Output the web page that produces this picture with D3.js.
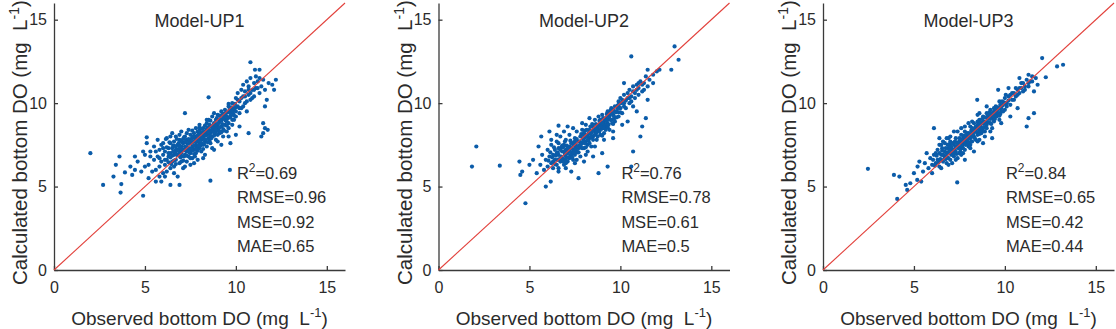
<!DOCTYPE html>
<html>
<head>
<meta charset="utf-8">
<script src="https://cdn.jsdelivr.net/npm/d3@7"></script>
<style>
  body { margin: 0; background: #fff; }
  text { font-family: Arial, "Liberation Sans", sans-serif; fill: #2b2b2b; }
</style>
</head>
<body>
<div id="chart"></div>
<script>
// observed vs calculated bottom DO, one array of [observed, calculated] per model
var up1Points = [
  [2.0,7.0],[2.7,5.1],[3.27,5.6],[3.4,6.3],[3.6,6.8],[3.66,4.64],[3.7,5.15],[4.9,4.45],[3.9,5.85],[4.45,6.8],
  [4.45,6.0],[5.1,7.95],[5.9,5.3],[6.4,5.1],[6.9,5.1],[8.6,5.35],[9.67,6.0],[7.2,9.4],[8.5,10.35],[10.8,12.45],
  [11.05,12.0],[11.3,12.0],[12.2,11.4],[12.1,10.8],[11.7,10.2],[11.6,9.8],[11.5,8.8],[11.6,8.5],[11.75,8.4],[11.4,8.0],
  [11.5,8.2],[10.7,8.2],[10.0,8.1],[10.2,8.6],
  [4.2,6.2],[4.6,6.5],[4.8,5.9],[5.0,6.2],[5.2,5.5],[4.9,7.1],[4.3,5.7],[5.3,6.8],[5.6,5.3],[5.8,5.6],
  [5.0,6.9],[5.1,7.6],[5.2,6.3],[5.3,7.1],[5.4,5.9],[5.5,6.6],[5.5,7.4],[5.6,6.0],[5.7,7.8],[5.7,6.8],
  [5.8,6.2],[5.8,7.2],[5.9,6.5],[5.9,7.5],[6.0,5.8],[6.0,6.9],[6.0,7.6],[6.1,6.3],[6.1,7.1],[6.2,6.6],
  [6.2,7.9],[6.2,5.9],[6.3,7.3],[6.3,6.8],[6.4,6.1],[6.4,7.6],[6.4,7.0],[6.5,6.5],[6.5,8.2],[6.5,7.3],
  [6.6,6.9],[6.6,7.7],[6.6,6.2],[6.7,7.2],[6.7,8.0],[6.7,6.6],[6.8,7.5],[6.8,6.9],[6.8,5.6],[6.9,7.8],
  [6.9,7.1],[6.9,6.4],[7.0,7.4],[7.0,8.3],[7.0,6.8],[7.0,7.0],[7.1,6.1],[7.1,7.6],[7.1,7.2],[7.2,8.0],
  [7.2,6.9],[7.2,7.4],[7.3,6.5],[7.3,7.8],[7.3,7.1],[7.4,8.4],[7.4,7.3],[7.4,6.8],[7.5,7.6],[7.5,7.0],
  [7.5,8.1],[7.5,6.3],[7.6,7.4],[7.6,7.9],[7.6,6.7],[7.7,8.2],[7.7,7.2],[7.7,7.7],[7.8,8.5],[7.8,7.0],
  [7.8,7.5],[7.8,8.0],[7.9,6.6],[7.9,7.8],[7.9,8.3],[8.0,7.3],[8.0,8.0],[8.0,8.7],[8.0,7.6],[8.1,7.1],
  [8.1,8.2],[8.1,7.8],[8.2,8.5],[8.2,7.5],[8.2,8.0],[8.3,6.9],[8.3,8.3],[8.3,7.7],[8.4,8.8],[8.4,8.1],
  [8.4,7.4],[8.5,8.4],[8.5,7.9],[8.5,9.0],[8.6,8.2],[8.6,7.6],[8.6,8.6],[8.7,9.2],[8.7,8.0],[8.7,7.3],
  [8.8,8.5],[8.8,8.8],[8.9,7.8],[8.9,9.0],[8.9,8.3],[9.0,8.6],[9.0,9.3],[9.0,7.7],[9.1,8.9],[9.1,8.2],
  [9.2,9.5],[9.2,8.6],[9.3,8.0],[9.3,9.1],[9.4,8.7],[9.4,9.6],[9.5,8.3],[9.5,9.2],[9.6,9.8],[9.6,8.8],
  [9.7,9.4],[9.7,7.6],[9.8,10.0],[9.8,9.0],[9.9,9.6],[10.0,10.3],[10.0,9.2],[10.1,9.8],[10.1,10.6],[10.2,9.4],
  [10.2,10.1],[10.3,10.8],[10.3,9.7],[10.4,10.4],[10.4,11.1],[10.5,10.0],[10.5,10.7],[10.6,11.3],[10.6,9.5],[10.7,10.5],
  [10.7,11.0],[10.8,10.2],[10.8,11.5],[10.9,10.8],[11.0,11.2],[11.0,10.4],[11.1,11.6],[11.1,10.9],[11.2,11.3],[11.3,10.6],
  [11.4,11.0],[11.5,11.4],[11.6,10.8],[11.8,11.2],[12.0,11.1],
  [6.55,7.45],[6.65,7.05],[6.75,7.85],[6.85,7.25],[6.95,6.75],[7.05,7.65],[7.15,7.95],[7.25,7.15],[7.35,7.55],[7.45,7.05],
  [7.55,7.85],[7.65,7.25],[7.75,7.95],[7.85,7.35],[7.95,8.15],[8.05,7.45],[8.15,8.45],[8.25,7.85],[8.35,8.05],[8.45,8.55],
  [8.55,7.75],[8.65,8.35],[8.75,8.65],[8.85,8.15],[8.95,8.75],[9.05,8.45],[9.15,9.05],[9.25,8.75],[9.35,9.35],[9.45,8.95],
  [9.55,9.45],[9.65,9.15],[9.75,9.75],[9.85,9.35],[9.95,9.95],
  [6.3,6.45],[6.5,6.85],[6.7,6.35],[6.9,7.45],[7.1,6.55],[7.3,7.35],[7.5,7.25],[7.7,6.95],[7.9,7.15],[8.1,7.55],
  [8.3,8.65],[8.5,8.15],[8.7,8.45],[8.9,8.55],[9.1,9.25],[9.3,8.45],[9.5,8.65],[9.7,9.55],[9.9,9.25],
  [6.2,7.35],[6.4,6.75],[6.6,7.45],[6.8,7.15],[7.0,7.75],[7.2,7.65],[7.4,7.85],[7.6,7.15],[7.8,7.85],[8.0,8.35],
  [8.2,7.25],[8.4,8.45],[8.6,8.95],[8.8,8.05],[9.0,8.35],[9.2,8.25],[9.4,9.25],[9.6,9.95],[9.8,9.55],[10.0,9.75],
  [5.6,7.1],[5.8,6.7],[6.0,7.3],[6.1,6.6],[6.3,7.0],[6.35,7.65],[6.45,6.35],[6.55,7.1],[6.6,6.55],[6.7,7.4],
  [6.75,6.9],[6.85,7.6],[6.9,6.9],[6.95,7.3],[7.0,6.5],[7.05,7.15],[7.1,7.85],[7.15,6.8],[7.2,7.2],[7.25,7.7],
  [7.3,6.85],[7.35,7.3],[7.4,7.1],[7.45,7.7],[7.5,6.7],[7.55,7.25],[7.6,7.65],[7.65,8.0],[7.7,7.45],[7.75,6.8],
  [7.8,7.25],[7.85,7.7],[7.9,8.05],[7.95,7.45],[8.0,7.8],[8.05,8.15],[8.1,7.6],[8.15,7.9],[8.2,8.25],[8.25,7.55],
  [8.3,8.1],[8.35,7.8],[8.4,8.3],[8.45,7.65],[8.5,8.25],[8.55,8.7],[8.6,8.0],[8.65,7.9],[8.7,8.6],[8.75,8.3],
  [8.8,8.25],[8.85,8.7],[8.9,8.4],[8.95,9.1],[9.0,8.1],[9.05,8.8],[9.1,8.55],[9.15,8.3],[9.2,8.95],[9.25,9.3],
  [9.3,8.7],[9.35,8.35],[9.4,9.0],[9.45,9.4],[9.5,8.9],[9.55,9.1],[9.6,8.5],[9.65,9.6],[9.7,9.2],[9.8,8.7],
  [9.85,9.7],[9.9,9.0],[10.0,9.5],[10.1,10.2],[10.2,9.7],[10.3,10.3],[10.4,9.8],[10.5,10.4],[10.6,10.1],[10.7,10.8],
  [10.8,10.6],[10.9,10.3],[11.0,10.8],[11.2,10.9],[11.3,11.5],[6.15,7.85],[6.4,8.0],[6.9,8.1],[7.3,8.2],[7.6,8.35],
  [8.0,8.55],[8.4,9.0],[8.8,9.4],[6.1,5.6],[6.6,5.8],[7.2,6.2],[7.7,6.4],[8.2,6.7],[8.8,7.2],[9.2,7.5],
  [9.6,8.0]
];

var up2Points = [
  [1.84,6.2],[2.08,7.4],[3.37,6.25],[4.78,4.0],[4.45,6.5],[4.6,5.9],[4.5,5.7],[5.9,5.0],[6.17,5.3],[7.7,5.5],
  [8.8,5.8],[9.3,6.2],[10.6,6.2],[10.7,7.1],[11.4,9.1],[11.2,8.6],[11.1,8.0],[10.6,12.8],[12.98,13.4],[13.2,12.6],
  [12.8,12.0],[12.15,12.0],[11.5,10.2],[5.65,8.0],[6.6,8.65],
  [5.0,6.3],[5.2,6.6],[5.4,5.8],[5.5,7.4],[6.1,8.3],[7.1,8.6],[7.3,5.9],[8.0,6.5],[8.5,6.8],[9.0,7.0],
  [9.6,7.9],[10.4,8.9],[10.9,9.5],[10.2,11.2],[11.5,12.0],[11.8,11.2],
  [5.6,6.3],[5.7,6.9],[5.8,6.0],[5.9,6.6],[6.0,7.2],[6.0,6.2],[6.1,6.8],[6.2,6.4],[6.2,7.5],[6.3,6.9],
  [6.3,6.1],[6.4,7.2],[6.4,6.6],[6.5,6.3],[6.5,7.7],[6.6,6.9],[6.6,7.3],[6.7,6.5],[6.7,8.0],[6.8,7.1],
  [6.8,6.7],[6.9,7.5],[6.9,6.3],[7.0,7.2],[7.0,6.8],[7.0,7.8],[7.1,7.0],[7.1,6.5],[7.2,7.4],[7.2,8.1],
  [7.3,6.9],[7.3,7.6],[7.4,7.2],[7.4,6.6],[7.5,7.9],[7.5,7.4],[7.5,6.9],[7.6,8.3],[7.6,7.1],[7.7,7.7],
  [7.7,7.3],[7.8,8.0],[7.8,6.8],[7.9,7.6],[7.9,8.4],[8.0,7.9],[8.0,7.3],[8.0,8.2],[8.1,7.7],[8.1,8.7],
  [8.2,8.0],[8.2,7.5],[8.3,8.4],[8.3,7.9],[8.4,8.2],[8.4,7.4],[8.5,8.6],[8.5,8.0],[8.6,9.0],[8.6,8.3],
  [8.7,7.8],[8.7,8.7],[8.8,8.4],[8.8,9.2],[8.9,8.1],[8.9,8.8],[9.0,8.5],[9.0,9.3],[9.1,8.9],[9.1,8.2],
  [9.2,9.1],[9.2,8.6],[9.3,9.5],[9.3,8.8],[9.4,9.2],[9.4,8.4],[9.5,9.7],[9.5,9.0],[9.6,9.3],[9.7,9.8],
  [9.7,8.9],[9.8,9.5],[9.9,10.1],[9.9,9.2],[10.0,9.7],[10.0,10.3],[10.1,9.4],[10.2,10.0],[10.2,10.5],[10.3,9.7],
  [10.4,10.3],[10.5,10.0],[10.5,10.8],[10.6,10.4],[10.7,11.0],[10.7,9.8],[10.8,10.6],[10.9,11.1],[11.0,10.5],[11.0,10.9],
  [11.1,11.3],[11.2,10.7],[11.3,11.2],[11.4,11.6],[11.5,11.0],[11.6,11.4],[11.8,11.7],[12.0,11.9],
  [6.55,7.05],[6.75,7.35],[6.95,6.95],[7.15,7.25],[7.35,7.05],[7.55,7.55],[7.75,7.45],[7.95,7.85],[8.15,8.05],[8.35,8.15],
  [8.55,8.35],[8.75,8.55],[8.95,8.45],[9.15,8.75],[9.35,9.05],[9.55,9.35],[9.75,9.45],[9.95,9.75],
  [6.45,6.85],[6.65,6.65],[6.85,7.35],[7.05,7.15],[7.25,6.85],[7.45,7.65],[7.65,7.05],[7.85,7.55],[8.05,8.35],[8.25,7.75],
  [8.45,8.75],[8.65,8.15],[8.85,8.95],[9.05,8.65],[9.25,9.35],[9.45,9.55],[9.65,9.05],[9.85,9.85],
  [6.3,6.5],[6.6,6.1],[6.9,6.6],[7.2,6.7],[7.5,7.15],[7.8,7.35],[8.1,7.35],[8.4,7.95],[8.7,8.25],[9.0,8.05],
  [9.3,8.55],[9.6,8.75],[9.9,9.45],[7.0,6.4],[7.6,6.6],[8.2,7.1],
  [6.05,6.55],[6.15,7.05],[6.25,6.75],[6.35,7.35],[6.4,6.35],[6.5,7.0],[6.55,6.6],[6.6,7.6],[6.7,7.2],[6.75,6.8],
  [6.8,7.45],[6.85,6.5],[6.9,7.1],[6.95,7.7],[7.0,6.6],[7.05,7.45],[7.1,7.3],[7.15,6.75],[7.2,7.1],[7.25,7.75],
  [7.3,7.3],[7.35,6.75],[7.4,7.5],[7.45,7.0],[7.5,7.7],[7.55,7.25],[7.6,7.85],[7.65,7.4],[7.7,7.05],[7.75,7.7],
  [7.8,7.5],[7.85,8.15],[7.9,7.3],[7.95,7.7],[8.0,8.05],[8.05,7.6],[8.1,8.0],[8.15,8.4],[8.2,7.8],[8.25,8.2],
  [8.3,7.6],[8.35,8.6],[8.4,8.0],[8.45,8.35],[8.5,7.8],[8.55,8.5],[8.6,8.1],[8.65,8.75],[8.7,8.45],[8.75,8.0],
  [8.8,8.65],[8.85,8.3],[8.9,9.0],[8.95,8.6],[9.0,8.8],[9.05,9.1],[9.1,8.5],[9.15,9.0],[9.2,8.4],[9.25,8.95],
  [9.3,9.25],[9.35,8.7],[9.4,9.4],[9.45,9.0],[9.5,9.4],[9.55,8.8],[9.6,9.6],[9.65,9.2],[9.7,9.5],[9.8,9.15],
  [9.85,9.7],[9.9,9.9],[10.0,9.45],[10.05,10.0],[10.1,10.2],[10.2,9.8],[10.3,10.15],[10.4,10.6],[10.5,10.3],[10.6,10.1],
  [10.7,10.7],[10.8,10.3],[10.9,10.8],[11.0,11.2],[11.2,11.1],[11.3,10.8],[6.2,7.8],[6.5,8.1],[6.9,8.3],[7.4,8.5],
  [7.9,8.8],[8.3,9.1],[6.6,5.9],[7.0,6.1],[7.5,6.4],[8.1,6.9],[8.6,7.4],[9.1,7.8],[9.6,8.3],[10.1,8.7]
];

var up3Points = [
  [2.47,6.06],[4.08,4.26],[3.9,5.7],[4.2,5.6],[4.63,4.8],[4.55,5.1],[5.18,5.4],[7.38,5.25],[11.3,9.1],[11.2,8.6],
  [11.6,9.4],[12.87,12.2],[13.2,12.3],[12.05,12.7],[12.25,11.55],[9.63,10.8],[6.1,8.5],[8.48,10.2],
  [4.8,5.2],[5.0,5.8],[5.2,6.2],[5.4,5.3],[5.3,6.5],[5.7,7.0],[6.0,5.8],[6.4,7.9],[6.9,7.9],[7.8,6.6],
  [8.3,7.1],[8.8,7.6],[9.3,7.9],[9.8,8.8],[10.3,9.2],[10.7,9.7],[10.2,10.9],[10.8,11.5],[11.3,11.7],[11.6,10.7],
  [11.8,11.1],
  [5.5,5.9],[5.6,6.4],[5.8,6.1],[5.9,6.7],[6.0,6.3],[6.1,6.9],[6.2,6.4],[6.3,7.2],[6.3,6.6],[6.4,6.2],
  [6.5,6.9],[6.5,7.5],[6.6,6.5],[6.7,7.1],[6.7,7.6],[6.8,6.8],[6.8,6.4],[6.9,7.3],[7.0,7.0],[7.0,6.6],
  [7.0,7.7],[7.1,7.2],[7.2,6.8],[7.2,7.5],[7.3,7.9],[7.3,7.1],[7.4,6.7],[7.4,7.4],[7.5,7.7],[7.5,7.0],
  [7.6,8.1],[7.6,7.3],[7.7,7.6],[7.7,7.9],[7.8,7.2],[7.8,8.3],[7.9,7.7],[7.9,8.0],[8.0,7.4],[8.0,8.2],
  [8.1,7.9],[8.1,8.6],[8.2,7.7],[8.2,8.3],[8.3,8.0],[8.3,8.8],[8.4,8.4],[8.4,7.8],[8.5,8.7],[8.5,8.1],
  [8.6,9.0],[8.6,8.4],[8.7,8.2],[8.7,8.8],[8.8,9.2],[8.8,8.5],[8.9,8.9],[8.9,8.3],[9.0,9.4],[9.0,8.7],
  [9.1,9.1],[9.2,8.8],[9.2,9.6],[9.3,9.2],[9.4,9.5],[9.4,8.9],[9.5,9.8],[9.6,9.3],[9.7,9.7],[9.7,10.1],
  [9.8,9.5],[9.9,9.9],[10.0,10.3],[10.0,9.6],[10.1,10.0],[10.2,10.4],[10.3,9.9],[10.4,10.6],[10.5,10.2],[10.6,10.9],
  [10.7,10.5],[10.8,10.9],[10.9,11.2],[11.0,10.7],[11.1,11.0],[11.2,11.4],[11.3,11.0],[11.4,11.3],[11.5,11.6],[11.7,11.5],
  [6.45,6.65],[6.65,6.85],[6.85,7.05],[7.05,7.35],[7.25,7.25],[7.45,7.55],[7.65,7.45],[7.85,7.85],[8.05,7.95],[8.25,8.15],
  [8.45,8.55],[8.65,8.65],[8.85,8.75],[9.05,9.05],[9.25,9.35],[9.45,9.25],[9.65,9.65],[9.85,9.85],
  [6.55,7.15],[6.75,6.65],[6.95,7.55],[7.15,6.95],[7.35,7.65],[7.55,7.35],[7.75,8.05],[7.95,7.55],[8.15,8.35],[8.35,8.45],
  [8.55,8.25],[8.75,9.05],[8.95,8.55],[9.15,9.45],[9.35,9.05],[9.55,9.55],[9.75,9.35],[9.95,10.05],
  [6.9,6.3],[7.3,6.6],[7.7,7.0],[8.1,7.5],[8.5,7.7],[8.9,8.0],[9.3,8.5],[9.7,9.0],[6.2,7.0],[6.6,7.7],
  [7.0,8.0],[7.4,8.3],[7.8,8.6],[8.2,8.9],[8.6,9.4],[9.0,9.8],
  [6.05,6.6],[6.15,6.25],[6.25,6.85],[6.35,6.45],[6.4,7.0],[6.5,6.6],[6.55,7.3],[6.6,6.9],[6.7,6.7],[6.75,7.3],
  [6.8,7.0],[6.85,7.5],[6.9,6.7],[6.95,7.2],[7.0,7.4],[7.05,6.9],[7.1,7.6],[7.15,7.2],[7.2,7.0],[7.25,7.7],
  [7.3,7.4],[7.35,6.95],[7.4,7.6],[7.45,7.3],[7.5,7.9],[7.55,7.1],[7.6,7.6],[7.65,7.8],[7.7,7.3],[7.75,7.7],
  [7.8,8.0],[7.85,7.5],[7.9,8.2],[7.95,7.8],[8.0,7.65],[8.05,8.15],[8.1,8.0],[8.15,7.7],[8.2,8.5],[8.25,8.0],
  [8.3,8.3],[8.35,7.9],[8.4,8.6],[8.45,8.25],[8.5,8.9],[8.55,8.5],[8.6,8.15],[8.65,8.8],[8.7,8.5],[8.75,8.3],
  [8.8,8.9],[8.85,8.55],[8.9,9.15],[8.95,8.8],[9.0,8.5],[9.05,9.2],[9.1,8.85],[9.15,9.3],[9.2,9.05],[9.25,8.75],
  [9.3,9.4],[9.35,9.2],[9.4,9.7],[9.45,9.05],[9.5,9.45],[9.55,9.2],[9.6,9.75],[9.65,9.4],[9.7,9.25],[9.75,9.9],
  [9.8,9.7],[9.85,10.1],[9.9,9.5],[10.0,10.0],[10.05,10.5],[10.1,9.8],[10.2,10.15],[10.3,10.5],[10.4,10.2],[10.5,10.6],
  [10.6,10.4],[10.7,10.8],[10.8,10.6],[10.9,10.9],[11.0,11.2],[11.1,10.8],[11.3,11.2],[11.5,11.3],[6.4,7.5],[6.8,7.9],
  [7.2,8.3],[7.6,8.5],[8.0,8.8],[8.5,9.3],[6.5,6.1],[7.1,6.4],[7.6,6.9],[8.1,7.3],[8.6,7.8],[9.2,8.3]
];

var modelNames = ["Model-UP1", "Model-UP2", "Model-UP3"];
var r2Values = ["0.69", "0.76", "0.84"];
var rmseValues = ["0.96", "0.78", "0.65"];
var mseValues = ["0.92", "0.61", "0.42"];
var maeValues = ["0.65", "0.5", "0.44"];
var tickValues = [0, 5, 10, 15];

var w = 1116;
var h = 329;
var panelLeft = [54, 438.5, 823];
var plotWidth = 291;
var plotTop = 3;
var plotBottom = 270;

var pointColor = "#0b5ca9";
var lineColor = "#e2403b";

var svg = d3.select("#chart")
    .append("svg")
    .attr("width", w)
    .attr("height", h);

var allPoints = [up1Points, up2Points, up3Points];

allPoints.forEach(function (points, i) {
    var x = d3.scaleLinear().domain([0, 16]).range([0, plotWidth]);
    var y = d3.scaleLinear().domain([0, 16]).range([plotBottom, plotTop]);

    var g = svg.append("g")
        .attr("transform", "translate(" + panelLeft[i] + ",0)");

    // axes, ticks pointing inward like the matlab default
    var xAxis = d3.axisBottom(x)
        .tickValues(tickValues)
        .tickSizeInner(-4)
        .tickSizeOuter(0)
        .tickPadding(12);
    var yAxis = d3.axisLeft(y)
        .tickValues(tickValues)
        .tickSizeInner(-4)
        .tickSizeOuter(0)
        .tickPadding(7);

    var gx = g.append("g")
        .attr("transform", "translate(0," + plotBottom + ")")
        .call(xAxis);
    var gy = g.append("g").call(yAxis);

    [gx, gy].forEach(function (a) {
        a.selectAll("path, line").attr("stroke", "#3a3a3a").attr("stroke-width", 1.3);
        a.selectAll("text")
            .style("font-size", "16px")
            .attr("fill", "#2b2b2b");
    });

    // scatter
    g.append("g")
        .selectAll("circle")
        .data(points)
        .enter()
        .append("circle")
        .attr("cx", function (d) { return x(d[0]); })
        .attr("cy", function (d) { return y(d[1]); })
        .attr("r", 2.1)
        .style("fill", pointColor);

    // 1:1 line
    g.append("line")
        .attr("x1", x(0))
        .attr("y1", y(0))
        .attr("x2", x(16))
        .attr("y2", y(16))
        .style("stroke", lineColor)
        .style("stroke-width", 1.1);

    // title
    g.append("text")
        .attr("x", plotWidth / 2)
        .attr("y", 27)
        .attr("text-anchor", "middle")
        .style("font-size", "18px")
        .text(modelNames[i]);

    // goodness-of-fit block
    var sx = x(10) + 1;
    var r2 = g.append("text")
        .attr("x", sx)
        .attr("y", 179)
        .style("font-size", "16.5px");
    r2.append("tspan").text("R");
    r2.append("tspan").attr("dy", -7).style("font-size", "12px").text("2");
    r2.append("tspan").attr("dy", 7).text("=" + r2Values[i]);

    var lines = ["RMSE=" + rmseValues[i], "MSE=" + mseValues[i], "MAE=" + maeValues[i]];
    lines.forEach(function (s, k) {
        g.append("text")
            .attr("x", sx)
            .attr("y", 203 + k * 24.5)
            .style("font-size", "16.5px")
            .text(s);
    });

    // axis titles
    var xl = g.append("text")
        .attr("x", plotWidth / 2)
        .attr("y", 325)
        .attr("text-anchor", "middle")
        .style("font-size", "19px");
    xl.append("tspan").text("Observed bottom DO (mg\u00a0\u00a0L");
    xl.append("tspan").attr("dy", -8).style("font-size", "13px").text("-1");
    xl.append("tspan").attr("dy", 8).text(")");

    var yl = g.append("text")
        .attr("transform", "translate(-27," + (plotBottom + 15) + ") rotate(-90)")
        .attr("text-anchor", "start")
        .style("font-size", "20.5px");
    yl.append("tspan").text("Calculated bottom DO (mg\u00a0\u00a0L");
    yl.append("tspan").attr("dy", -8).style("font-size", "14px").text("-1");
    yl.append("tspan").attr("dy", 8).text(")");
});
</script>
</body>
</html>
